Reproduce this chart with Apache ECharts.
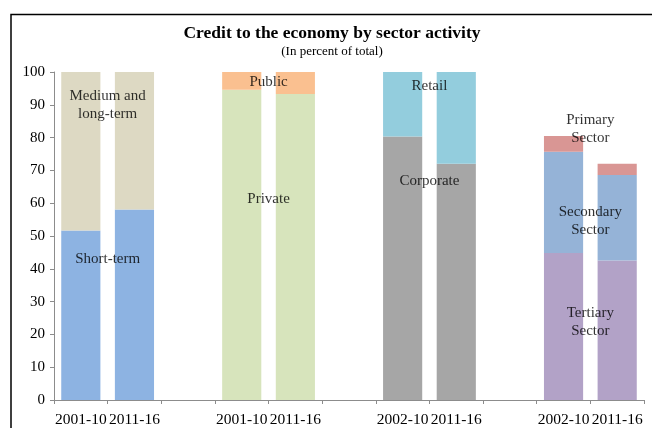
<!DOCTYPE html>
<html>
<head>
<meta charset="utf-8">
<script src="https://cdn.jsdelivr.net/npm/echarts@6/dist/echarts.min.js"></script>
<style>
  html, body { margin: 0; padding: 0; background: #fff; }
  #chart { width: 652px; height: 428px; }
</style>
</head>
<body>
<div id="chart"></div>
<script>
// Period labels along the category axis; empty slots separate the four panels
const periodLabels = ['2001-10', '2011-16', '', '2001-10', '2011-16', '', '2002-10', '2011-16', '', '2002-10', '2011-16'];

// Shares of total credit, in percent (first and second period of each panel)
const shortTerm      = [51.7, 58.1];
const mediumLongTerm = [48.3, 41.9];
const privateSector  = [94.6, 93.3];
const publicSector   = [5.4, 6.7];
const corporate      = [80.3, 72.0];
const retail         = [19.7, 28.0];
const tertiary       = [44.8, 42.5];
const secondary      = [30.9, 26.1];
const primary        = [4.8, 3.4];

// In-plot labels: text, position on the panel boundary axis (0..11) and height in percent
const noteText = ['Medium and\nlong-term', 'Short-term', 'Public', 'Private', 'Retail', 'Corporate',
                  'Primary\nSector', 'Secondary\nSector', 'Tertiary\nSector'];
const noteX = [1, 1, 4, 4, 7, 7, 10, 10, 10];
const noteY = [90.0, 43.0, 96.8, 61.2, 95.8, 66.7, 82.5, 54.7, 23.7];

const SERIF = '"Liberation Serif", "Times New Roman", serif';

// Spread a panel's two values into its slots on the shared category axis
function inPanel(values, panel) {
  const out = periodLabels.map(() => '-');
  out[panel * 3] = values[0];
  out[panel * 3 + 1] = values[1];
  return out;
}

function barSeries(name, values, panel, color) {
  return {
    name: name,
    type: 'bar',
    stack: 'share',
    xAxisIndex: 0,
    barCategoryGap: '27%',
    itemStyle: { color: color },
    data: inPanel(values, panel)
  };
}

const chart = echarts.init(document.getElementById('chart'), null, { renderer: 'canvas' });

chart.setOption({
  animation: false,
  backgroundColor: '#fff',
  title: {
    text: 'Credit to the economy by sector activity',
    subtext: '(In percent of total)',
    left: 332,
    top: 24,
    textAlign: 'center',
    itemGap: 3,
    textStyle: { fontFamily: SERIF, fontSize: 17.5, fontWeight: 'bold', color: '#000' },
    subtextStyle: { fontFamily: SERIF, fontSize: 13, color: '#000' },
    padding: 0
  },
  grid: { left: 54, right: 8, top: 72, bottom: 27, containLabel: false },
  xAxis: [
    {
      type: 'category',
      data: periodLabels,
      boundaryGap: true,
      axisLine: { lineStyle: { color: '#8c8c8c', width: 1 } },
      axisTick: { show: true, interval: 0, length: 4, lineStyle: { color: '#8c8c8c' } },
      axisLabel: { interval: 0, margin: 12, color: '#000', fontFamily: SERIF, fontSize: 15.5, hideOverlap: false },
      splitLine: { show: false }
    },
    { type: 'value', min: 0, max: 11, show: false }
  ],
  yAxis: {
    type: 'value',
    min: 0,
    max: 100,
    interval: 10,
    axisLine: { show: true, lineStyle: { color: '#8c8c8c', width: 1 } },
    axisTick: { show: true, length: 4, lineStyle: { color: '#8c8c8c' } },
    axisLabel: { margin: 9, color: '#000', fontFamily: SERIF, fontSize: 15 },
    splitLine: { show: false }
  },
  graphic: [{
    type: 'polyline',
    silent: true,
    shape: { points: [[11, 428], [11, 14.5], [652, 14.5]] },
    style: { stroke: '#000', lineWidth: 1.5, fill: null }
  }],
  series: [
    barSeries('Short-term', shortTerm, 0, '#8DB3E2'),
    barSeries('Medium and long-term', mediumLongTerm, 0, '#DDD9C3'),
    barSeries('Private', privateSector, 1, '#D7E4BC'),
    barSeries('Public', publicSector, 1, '#FAC090'),
    barSeries('Corporate', corporate, 2, '#A6A6A6'),
    barSeries('Retail', retail, 2, '#93CDDD'),
    barSeries('Tertiary Sector', tertiary, 3, '#B2A2C7'),
    barSeries('Secondary Sector', secondary, 3, '#95B3D7'),
    barSeries('Primary Sector', primary, 3, '#D99694'),
    {
      name: 'notes',
      type: 'scatter',
      xAxisIndex: 1,
      symbolSize: 1,
      itemStyle: { color: 'rgba(0,0,0,0)' },
      silent: true,
      z: 10,
      label: {
        show: true,
        position: 'inside',
        formatter: '{b}',
        color: '#000',
        fontFamily: SERIF,
        fontSize: 15,
        lineHeight: 18,
        align: 'center',
        verticalAlign: 'middle'
      },
      data: noteText.map((t, i) => ({ name: t, value: [noteX[i], noteY[i]] }))
    }
  ]
});
</script>
</body>
</html>
